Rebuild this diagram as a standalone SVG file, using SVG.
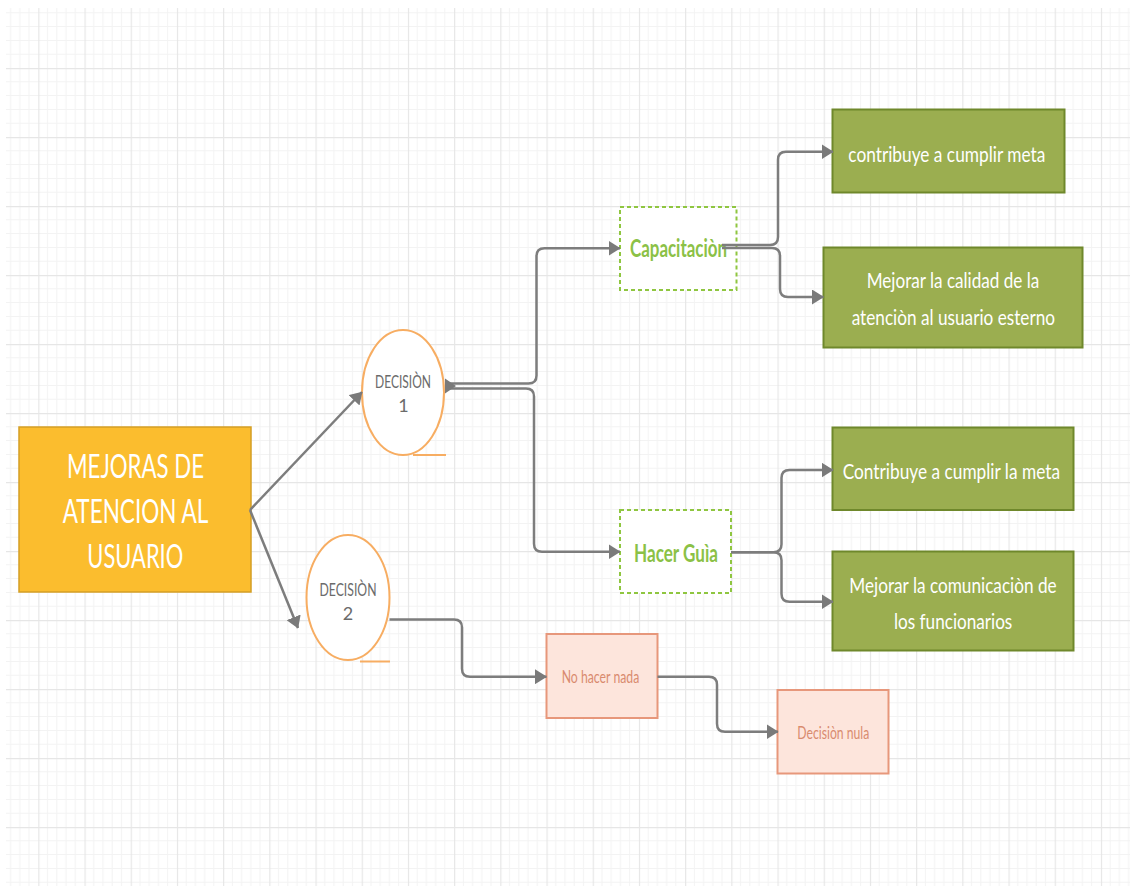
<svg xmlns="http://www.w3.org/2000/svg" width="1130" height="886" viewBox="0 0 1130 886">
<style>
.conn{fill:none;stroke:#7d7d7d;stroke-width:2.5;marker-end:url(#arr)}
.main{fill:#fbbd2e;stroke:#d59f24;stroke-width:1.5}
.dec{fill:#ffffff;stroke:#f7ad62;stroke-width:2}
.decl{stroke:#f7ad62;stroke-width:2}
.opt{fill:#ffffff;stroke:#8fc640;stroke-width:2;stroke-dasharray:4 3}
.res{fill:#9bae50;stroke:#6f882b;stroke-width:2}
.nul{fill:#fde5dc;stroke:#e7977b;stroke-width:2}
.t{font-family:Lato,"Liberation Sans",sans-serif}
.tw{fill:#ffffff;font-size:21px}
.tm{fill:#ffffff;font-size:32px}
.td{fill:#6b6b6b;font-size:18px}
.tg{fill:#8bc146;font-size:24px;font-weight:bold}
.tp{fill:#d98b6f;font-size:18px}
</style>
<defs>
<marker id="arr" markerUnits="userSpaceOnUse" markerWidth="12" markerHeight="15" viewBox="0 0 12 15" refX="11.5" refY="7.5" orient="auto">
<path d="M0,0 L12,7.5 L0,15 z" fill="#7a7a7a"/>
</marker>
<pattern id="grid" patternUnits="userSpaceOnUse" x="38.3" y="68" width="46.2" height="69">
<g stroke="#f3f3f3" stroke-width="1">
<line x1="9.24" y1="0" x2="9.24" y2="69"/>
<line x1="18.48" y1="0" x2="18.48" y2="69"/>
<line x1="27.72" y1="0" x2="27.72" y2="69"/>
<line x1="36.96" y1="0" x2="36.96" y2="69"/>
<line x1="0" y1="13.8" x2="46.2" y2="13.8"/>
<line x1="0" y1="27.6" x2="46.2" y2="27.6"/>
<line x1="0" y1="41.4" x2="46.2" y2="41.4"/>
<line x1="0" y1="55.2" x2="46.2" y2="55.2"/>
</g>
<g stroke="#e6e6e6" stroke-width="1.3">
<line x1="0.5" y1="0" x2="0.5" y2="69"/>
<line x1="0" y1="0.5" x2="46.2" y2="0.5"/>
</g>
</pattern>
</defs>
<rect width="1130" height="886" fill="#ffffff"/>
<rect x="6" y="8" width="1124" height="878" fill="url(#grid)"/>

<g id="n-main">
<rect class="main" x="19" y="427" width="232" height="165"/>
<text class="t tm" x="67" y="478" textLength="137" lengthAdjust="spacingAndGlyphs">MEJORAS DE</text>
<text class="t tm" x="62.7" y="523" textLength="145.6" lengthAdjust="spacingAndGlyphs">ATENCION AL</text>
<text class="t tm" x="87.3" y="568" textLength="96" lengthAdjust="spacingAndGlyphs">USUARIO</text>
</g>

<g id="n-dec1">
<ellipse class="dec" cx="403" cy="392.5" rx="41" ry="62.5"/>
<line class="decl" x1="413" y1="455" x2="446" y2="455"/>
<text class="t td" x="375" y="388" textLength="56" lengthAdjust="spacingAndGlyphs">DECISIÒN</text>
<text class="t td" x="403.5" y="412" text-anchor="middle">1</text>
</g>

<g id="n-dec2">
<ellipse class="dec" cx="348" cy="597.5" rx="41.5" ry="62.5"/>
<line class="decl" x1="360" y1="661.5" x2="390" y2="661.5"/>
<text class="t td" x="319.5" y="596" textLength="57" lengthAdjust="spacingAndGlyphs">DECISIÒN</text>
<text class="t td" x="348" y="620" text-anchor="middle">2</text>
</g>

<g id="n-capacitacion">
<rect class="opt" x="620" y="207" width="116.5" height="83"/>
<text class="t tg" x="630" y="256.5" textLength="97" lengthAdjust="spacingAndGlyphs">Capacitaciòn</text>
</g>

<g id="n-guia">
<rect class="opt" x="620" y="510" width="111" height="83"/>
<text class="t tg" x="634" y="561.5" textLength="84" lengthAdjust="spacingAndGlyphs">Hacer Guìa</text>
</g>

<g id="n-meta1">
<rect class="res" x="832.5" y="109.5" width="232" height="83"/>
<text class="t tw" x="848.3" y="161.5" textLength="197" lengthAdjust="spacingAndGlyphs">contribuye a cumplir meta</text>
</g>

<g id="n-calidad">
<rect class="res" x="823.5" y="247.5" width="259" height="100"/>
<text class="t tw" x="866.7" y="288.3" textLength="172.6" lengthAdjust="spacingAndGlyphs">Mejorar la calidad de la</text>
<text class="t tw" x="851.7" y="325" textLength="203.3" lengthAdjust="spacingAndGlyphs">atenciòn al usuario esterno</text>
</g>

<g id="n-meta2">
<rect class="res" x="832.5" y="427.5" width="241" height="82.5"/>
<text class="t tw" x="842.7" y="479.3" textLength="217.3" lengthAdjust="spacingAndGlyphs">Contribuye a cumplir la meta</text>
</g>

<g id="n-comunicacion">
<rect class="res" x="832.5" y="551.5" width="241" height="99"/>
<text class="t tw" x="849.3" y="593.3" textLength="207.4" lengthAdjust="spacingAndGlyphs">Mejorar la comunicaciòn de</text>
<text class="t tw" x="894" y="629.3" textLength="118.3" lengthAdjust="spacingAndGlyphs">los funcionarios</text>
</g>

<g id="n-nada">
<rect class="nul" x="546.5" y="634" width="111" height="84"/>
<text class="t tp" x="561.7" y="683.3" textLength="77.6" lengthAdjust="spacingAndGlyphs">No hacer nada</text>
</g>

<g id="n-nula">
<rect class="nul" x="777.5" y="690" width="111" height="83.5"/>
<text class="t tp" x="797.3" y="738.7" textLength="72" lengthAdjust="spacingAndGlyphs">Decisiòn nula</text>
</g>

<g id="connectors">
<path class="conn" d="M250,510 L362,392"/>
<path class="conn" d="M250,510 L298,628"/>
<path class="conn" d="M446,383.5 H528.5 Q536.5,383.5 536.5,375.5 V256.3 Q536.5,248.3 544.5,248.3 H620"/>
<path class="conn" d="M446,388.5 H526 Q534,388.5 534,396.5 V543.7 Q534,551.7 542,551.7 H620"/>
<polygon points="445,378.5 456,386 445,393.5" fill="#7a7a7a"/>
<path class="conn" d="M722,245 H770 Q778,245 778,237 V159.7 Q778,151.7 786,151.7 H833"/>
<path class="conn" d="M722,248 H772 Q780,248 780,256 V289 Q780,297 788,297 H823.5"/>
<path class="conn" d="M731,552.3 H773.5 Q781.5,552.3 781.5,544.3 V478 Q781.5,470 789.5,470 H833"/>
<path class="conn" d="M731,552.3 H773.5 Q781.5,552.3 781.5,560.3 V593.7 Q781.5,601.7 789.5,601.7 H833"/>
<path class="conn" d="M389.5,619.5 H454 Q462,619.5 462,627.5 V668.7 Q462,676.7 470,676.7 H546.5"/>
<path class="conn" d="M657.5,676.7 H709 Q717,676.7 717,684.7 V723.7 Q717,731.7 725,731.7 H778"/>
</g>
</svg>
